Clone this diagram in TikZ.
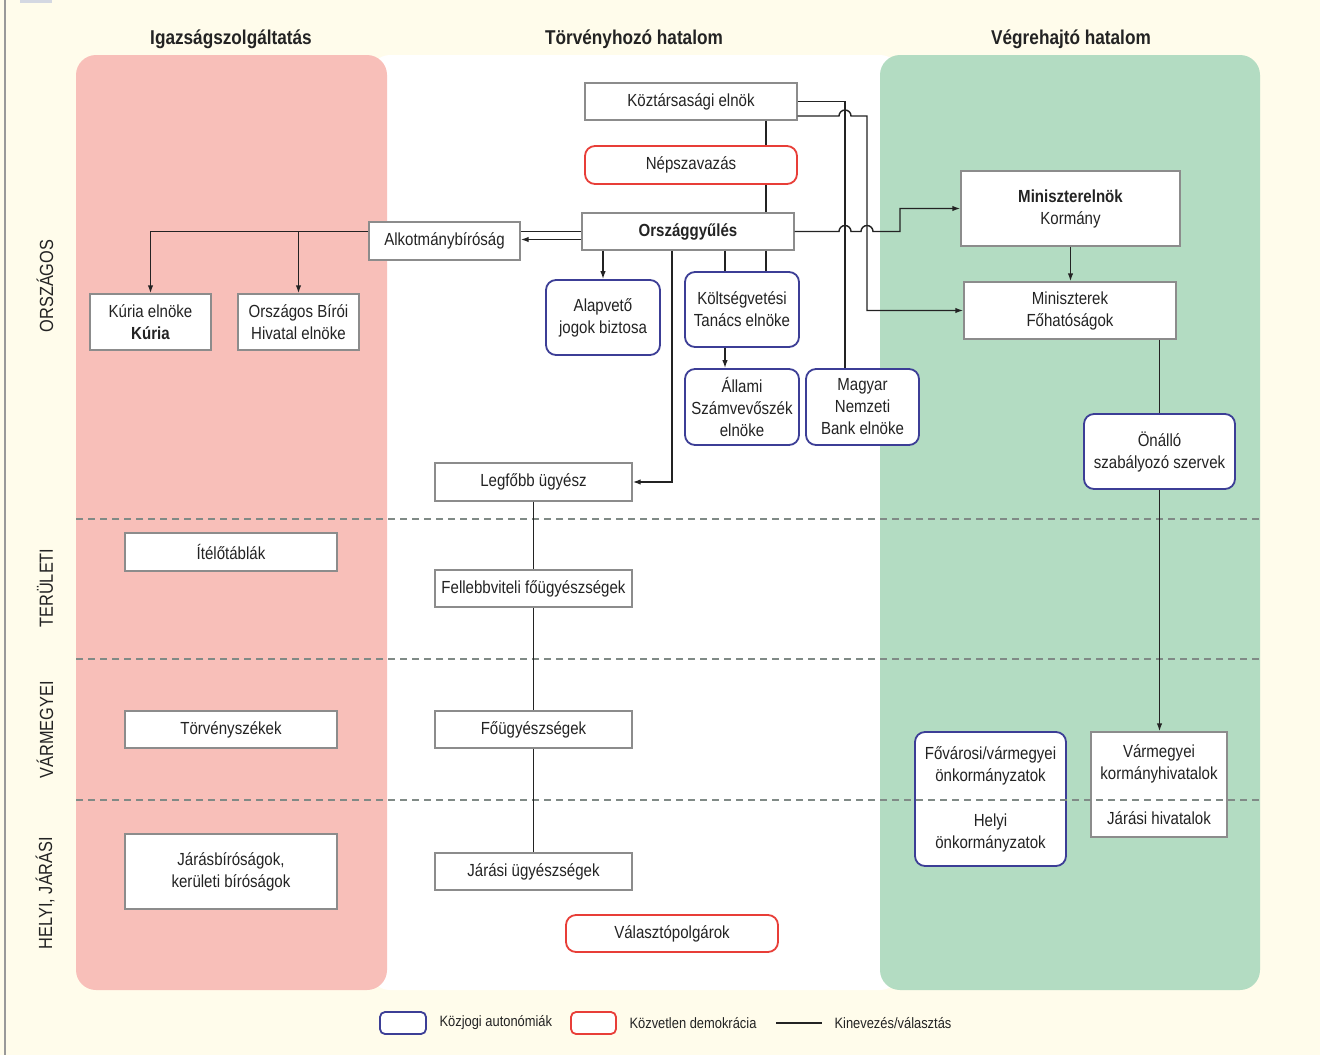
\documentclass[tikz,border=0pt]{standalone}
\usepackage{fontspec}
\setmainfont{Liberation Sans}[FakeStretch=0.86]
\usepackage{xcolor}
\usepackage{tikz}
\usetikzlibrary{arrows.meta,calc}
\definecolor{bgcream}{RGB}{255,252,235}
\definecolor{courtpink}{RGB}{248,191,185}
\definecolor{execgreen}{RGB}{179,220,194}
\definecolor{boxgray}{RGB}{140,140,140}
\definecolor{autoblue}{RGB}{60,62,150}
\definecolor{demored}{RGB}{232,62,56}
\definecolor{dashgray}{RGB}{128,138,134}
\definecolor{inkdark}{RGB}{35,35,35}
\definecolor{tabgray}{RGB}{212,216,226}

\begin{document}
\begin{tikzpicture}[
  x=1pt, y=-1pt,
  office/.style={draw=boxgray, fill=white, line width=1.4pt, inner sep=0pt,
    align=center, text=inkdark, font=\fontsize{17.5}{22}\selectfont},
  autonomy/.style={office, draw=autoblue, line width=1.8pt, rounded corners=10pt},
  direct/.style={office, draw=demored, line width=1.8pt, rounded corners=10pt},
  dims/.style 2 args={minimum width=#1pt, minimum height=#2pt},
  branch/.style={font=\bfseries\fontsize{20}{24}\selectfont, text=inkdark},
  level/.style={rotate=90, font=\fontsize{19}{22}\selectfont, text=inkdark},
  legendtext/.style={anchor=west, font=\fontsize{15}{18}\selectfont, text=inkdark},
  link/.style={line width=1.4pt, draw=inkdark},
  tolink/.style={link, -{Latex[length=8pt,width=5.5pt]}},
  levelline/.style={dashgray, line width=1.3pt, dash pattern=on 7pt off 5pt}
]
  \useasboundingbox (0,0) rectangle (1320,1055);
  \fill[bgcream] (0,0) rectangle (1320,1055);
  \fill[tabgray] (20,0) rectangle (52,3);
  \draw[gray!80, line width=1.5pt] (5,0) -- (5,1055);

  % Columns
  \fill[white, rounded corners=20pt] (370,55) rectangle (900,990);
  \fill[courtpink, rounded corners=20pt] (76,55) rectangle (387,990);
  \fill[execgreen, rounded corners=20pt] (880,55) rectangle (1260,990);

  \node[branch] (hjud) at (231,39) {Igazságszolgáltatás};
  \node[branch] (hleg) at (634,39) {Törvényhozó hatalom};
  \node[branch] (hexe) at (1071,39) {Végrehajtó hatalom};

  \node[level] (lvnat) at (45,286) {ORSZÁGOS};
  \node[level] (lvreg) at (45,588) {TERÜLETI};
  \node[level] (lvcty) at (45,730) {VÁRMEGYEI};
  \node[level] (lvloc) at (45,893) {HELYI, JÁRÁSI};

  % Legislature
  \node[office, dims={212}{37}] (kozt) at (691,101.5) {Köztársasági elnök};
  \node[direct, dims={212}{38}] (nepsz) at (691,165) {Népszavazás};
  \node[office, dims={212}{37}] (orszgy) at (688,231.5) {\textbf{Országgyűlés}};
  \node[office, dims={151}{38}] (alkb) at (444.5,241) {Alkotmánybíróság};
  \node[autonomy, dims={114}{75}] (ajb) at (603,317.5) {Alapvető\\jogok biztosa};
  \node[autonomy, dims={114}{75}] (kt) at (742,309.5) {Költségvetési\\Tanács elnöke};
  \node[autonomy, dims={114}{76}] (asz) at (742,407) {Állami\\Számvevőszék\\elnöke};
  \node[autonomy, dims={113}{76}] (mnb) at (862.5,407) {Magyar\\Nemzeti\\Bank elnöke};
  \node[office, dims={197}{38}] (legf) at (533.5,482) {Legfőbb ügyész};
  \node[office, dims={197}{37}] (fellebb) at (533.5,588.5) {Fellebbviteli főügyészségek};
  \node[office, dims={197}{37}] (fougy) at (533.5,729.5) {Főügyészségek};
  \node[office, dims={197}{37}] (jarugy) at (533.5,871.5) {Járási ügyészségek};
  \node[direct, dims={212}{37}] (valaszt) at (672,933.5) {Választópolgárok};

  % Courts
  \node[office, dims={121}{56}] (kuria) at (150.5,322) {Kúria elnöke\\\textbf{Kúria}};
  \node[office, dims={121}{56}] (obh) at (298.5,322) {Országos Bírói\\Hivatal elnöke};
  \node[office, dims={212}{38}] (itelo) at (231,552) {Ítélőtáblák};
  \node[office, dims={212}{37}] (torvsz) at (231,729.5) {Törvényszékek};
  \node[office, dims={212}{75}] (jarasb) at (231,871.5) {Járásbíróságok,\\kerületi bíróságok};

  % Executive
  \node[office, dims={219}{75}] (mniel) at (1070.5,208.5) {\textbf{Miniszterelnök}\\Kormány};
  \node[office, dims={212}{57}] (minisz) at (1070,310.5) {Miniszterek\\Főhatóságok};
  \node[autonomy, dims={151}{75}] (onallo) at (1159.5,451.5) {Önálló\\szabályozó szervek};
  \node[autonomy, dims={151}{134}] (onkorm) at (990.5,799)
    {Fővárosi/vármegyei\\önkormányzatok\\[23pt]Helyi\\önkormányzatok};
  \node[office, dims={136}{105}] (kormh) at (1159,784.5)
    {Vármegyei\\kormányhivatalok\\[23pt]Járási hivatalok};

  % Levels
  \draw[levelline] (76,519) -- (1260,519);
  \draw[levelline] (76,659) -- (1260,659);
  \draw[levelline] (76,800) -- (1260,800);

  % Vertical line positions
  \coordinate (kv) at (766,0);
  \coordinate (ktx) at (725,0);
  \coordinate (legx) at (672,0);
  \coordinate (mnbx) at (845,0);
  \coordinate (minx) at (867,0);

  % Connectors
  \draw[link] (kozt.south -| kv) -- (nepsz.north -| kv);
  \draw[link] (nepsz.south -| kv) -- (orszgy.north -| kv);
  \draw[link] (orszgy.south -| kv) -- (kt.north -| kv);
  \draw[link] (orszgy.south -| ktx) -- (kt.north -| ktx);
  \draw[tolink] (kt.south -| ktx) -- (asz.north -| ktx);
  \draw[tolink] (orszgy.south -| ajb.north) -- (ajb.north);
  \draw[tolink] (orszgy.south -| legx) |- (legf.east);
  \draw[link] (kozt.east) -| (mnbx |- mnb.north);
  \draw[tolink] ([yshift=-14.5pt]kozt.east) -- (839,116)
    arc[start angle=180, end angle=360, radius=6] -- (minx |- 0,116) |- (minisz.west);
  \draw[tolink] (orszgy.east) -- (839,231.5)
    arc[start angle=180, end angle=360, radius=6] -- (861,231.5)
    arc[start angle=180, end angle=360, radius=6] -- (900,231.5) |- (mniel.west);
  \draw[link] (orszgy.west) -- (alkb.east |- orszgy.west);
  \draw[tolink] ([yshift=-8pt]orszgy.west) -- ([yshift=-8pt]alkb.east |- orszgy.west);
  \draw[tolink] (alkb.west |- orszgy.west) -| (kuria.north);
  \draw[tolink] (obh.north |- orszgy.west) -- (obh.north);
  \draw[link] (legf.south) -- (fellebb.north);
  \draw[link] (fellebb.south) -- (fougy.north);
  \draw[link] (fougy.south) -- (jarugy.north);
  \draw[tolink] (mniel.south) -- (mniel.south |- minisz.north);
  \draw[link] (minisz.south -| onallo.north) -- (onallo.north);
  \draw[tolink] (onallo.south) -- (onallo.south |- kormh.north);

  % Legend
  \node[autonomy, dims={46}{22}, rounded corners=5pt] (legauto) at (403,1023) {};
  \node[legendtext] (legautot) at (436,1023) {Közjogi autonómiák};
  \node[direct, dims={45}{22}, rounded corners=5pt] (legdir) at (593.5,1023) {};
  \node[legendtext] (legdirt) at (626,1023) {Közvetlen demokrácia};
  \coordinate (leglinea) at (776,1023);
  \coordinate (leglineb) at (822,1023);
  \draw[link] (leglinea) -- (leglineb);
  \node[legendtext] (leglinet) at (831,1023) {Kinevezés/választás};
\end{tikzpicture}
\end{document}
